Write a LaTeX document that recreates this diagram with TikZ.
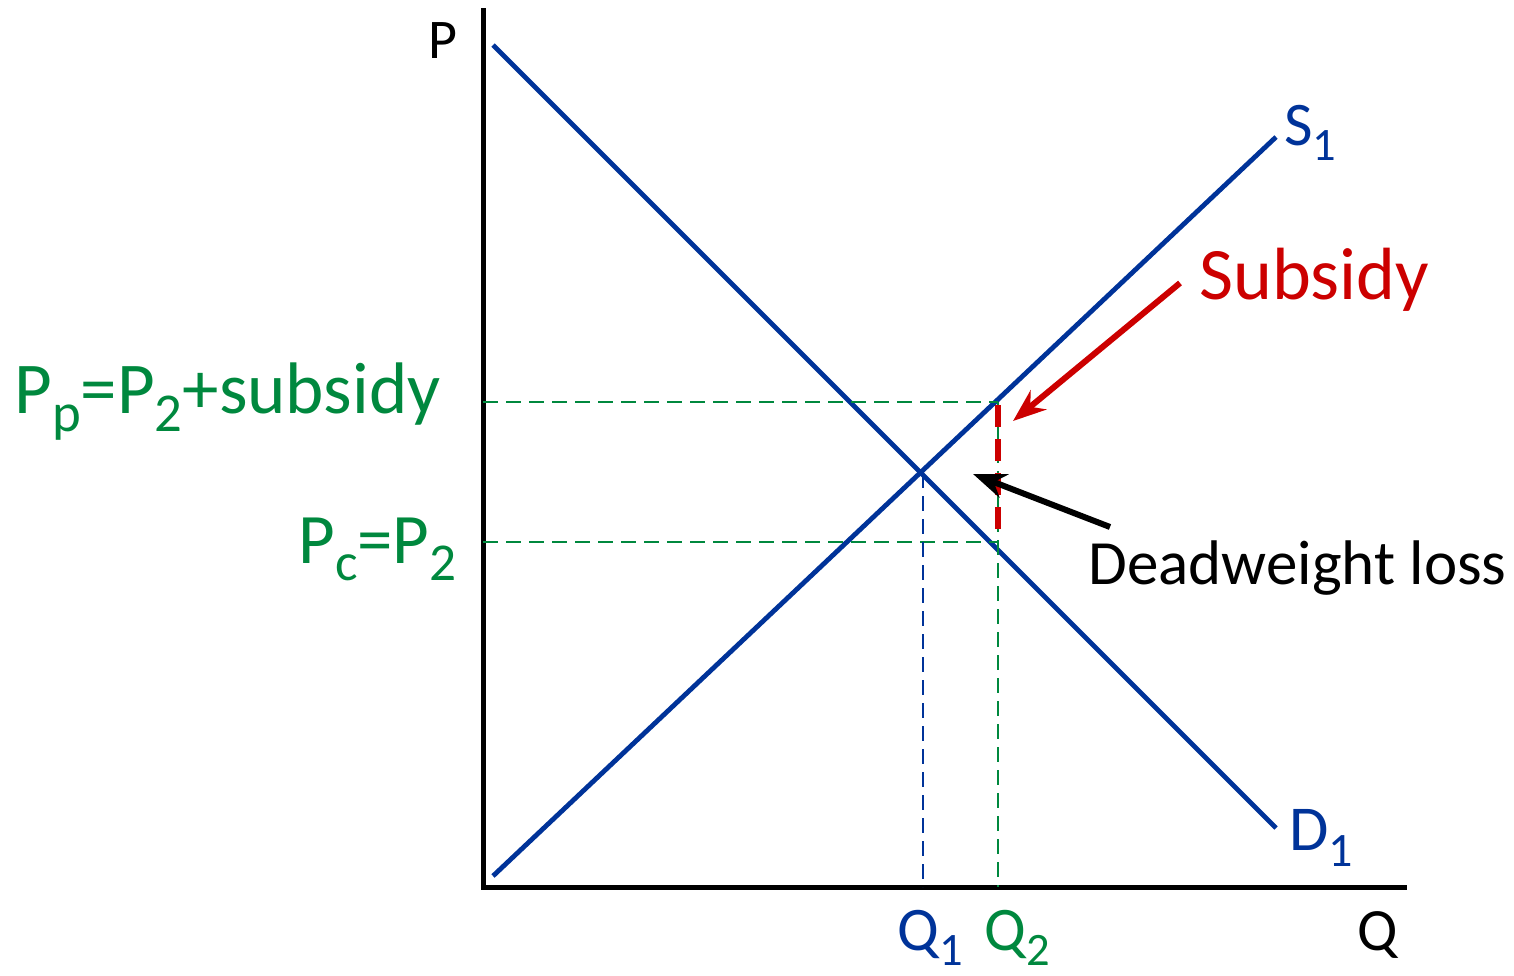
\documentclass[tikz,border=0pt]{standalone}
\usepackage{fontspec}
\setmainfont{Carlito}
\usepackage{graphicx}
\definecolor{ecblue}{RGB}{0,51,153}
\definecolor{ecgreen}{RGB}{0,136,62}
\definecolor{ecred}{RGB}{204,0,0}
\usetikzlibrary{arrows.meta}
\newcommand{\lowix}[1]{\raisebox{-0.25em}{\scalebox{0.75}{#1}}}

\begin{document}
\begin{tikzpicture}[>=Stealth,x=0.5pt,y=-0.5pt,
    lbl/.style={inner sep=0pt,anchor=base west},
    curve/.style={ecblue,line width=2.4pt},
    guide/.style={line width=1pt,dash pattern=on 7.5pt off 4pt}]
  \useasboundingbox (0,0) rectangle (1514,975);
  %% Axes
  \coordinate (top) at (483,8);
  \coordinate (origin) at (483,887);
  \coordinate (right) at (1407,887);
  \draw[line width=2.5pt] (top) -- (origin) -- (right);
  %% Demand and supply
  \coordinate (dtop) at (493,45);
  \coordinate (dbot) at (1276,828);
  \coordinate (sbot) at (493,876);
  \coordinate (stop) at (1276,137);
  \draw[curve] (dtop) -- (dbot);
  \draw[curve] (sbot) -- (stop);
  %% Equilibrium and subsidy points
  \coordinate (eq) at (923,473);
  \coordinate (q1) at (923,887);
  \coordinate (pp) at (998,402);
  \coordinate (pc) at (998,542);
  \coordinate (q2) at (998,887);
  \coordinate (ppax) at (483,402);
  \coordinate (pcax) at (483,542);
  %% Guide lines
  \draw[guide,ecgreen] (ppax) -- (pp);
  \draw[guide,ecgreen] (pcax) -- (pc);
  \draw[guide,ecgreen] (pp) -- (q2);
  \draw[guide,ecblue] (eq) -- (q1);
  %% Subsidy wedge
  \draw[ecred,line width=3pt,dash pattern=on 11pt off 6pt] (998,405) -- (998,540);
  %% Labels
  \node[lbl,font=\fontsize{28}{34}\selectfont] (plab) at (428,58) {P};
  \node[lbl,font=\fontsize{30}{36}\selectfont] (qlab) at (1357,950) {Q};
  \node[lbl,font=\fontsize{31}{36}\selectfont,text=ecblue] (slab) at (1284,145) {S\lowix{1}};
  \node[lbl,font=\fontsize{32}{38}\selectfont,text=ecblue] (dlab) at (1289,850) {D\lowix{1}};
  \node[lbl,font=\fontsize{31}{36}\selectfont,text=ecblue] (q1lab) at (897,950) {Q\lowix{1}};
  \node[lbl,font=\fontsize{31}{36}\selectfont,text=ecgreen] (q2lab) at (984,950) {Q\lowix{2}};
  \node[lbl,font=\fontsize{36.5}{44}\selectfont,text=ecgreen] (pplab) at (14,413) {P\lowix{p}=P\lowix{2}+subsidy};
  \node[inner sep=0pt,anchor=base east,font=\fontsize{35.5}{42}\selectfont,text=ecgreen] (pclab) at (457,563) {P\lowix{c}=P\lowix{2}};
  \node[lbl,font=\fontsize{37}{44}\selectfont,text=ecred] (sublab) at (1199,299) {Subsidy};
  \node[lbl,font=\fontsize{31.5}{38}\selectfont] (dwlab) at (1088,584) {Deadweight loss};
  %% Pointers
  \coordinate (subtail) at (1180,283);
  \coordinate (subtip) at (1013,421);
  \coordinate (dwtail) at (1110,527);
  \coordinate (dwtip) at (973,474);
  \draw[->,ecred,line width=3pt] (subtail) -- (subtip);
  \draw[->,line width=3pt] (dwtail) -- (dwtip);
\end{tikzpicture}
\end{document}
